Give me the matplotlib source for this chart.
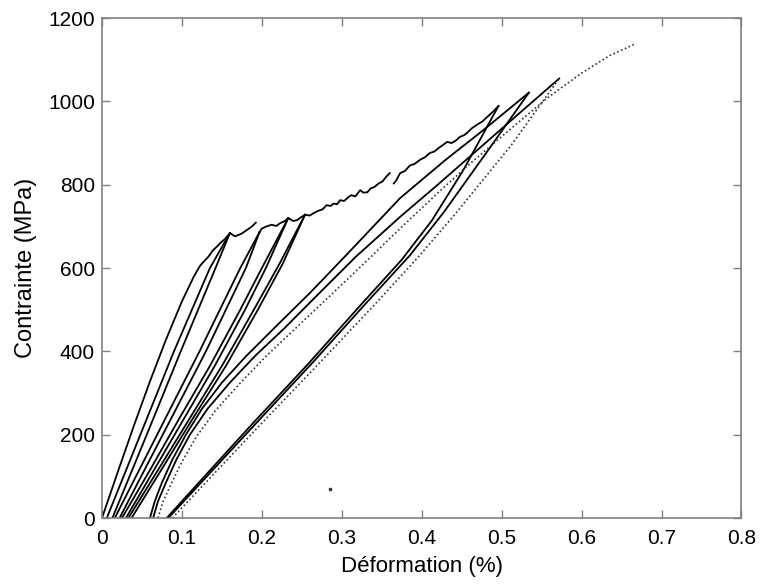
import matplotlib
matplotlib.use("Agg")
import matplotlib.pyplot as plt

plt.rcParams['font.family'] = ['Liberation Sans', 'DejaVu Sans']

# first loading (envelope up to the first plateau)
env1_x = [0, 0.02, 0.04, 0.06, 0.08, 0.1, 0.115, 0.1225, 0.127, 0.133,
          0.139, 0.144, 0.148, 0.154, 0.16, 0.1665, 0.175, 0.181, 0.187, 0.1925]
env1_y = [0, 112, 222, 328, 428, 520, 580, 605, 615, 627,
          643, 652, 660, 670, 684, 676, 683, 691, 699, 709]

# envelope after the second peak, up to the gap
env2_x = [0.197, 0.2, 0.206, 0.212, 0.218, 0.223, 0.228, 0.233, 0.239, 0.244, 0.249,
          0.254, 0.26, 0.264, 0.27, 0.276, 0.281, 0.286, 0.29, 0.294, 0.298, 0.303,
          0.308, 0.312, 0.317, 0.323, 0.327, 0.332, 0.336, 0.341, 0.346, 0.351,
          0.355, 0.36]
env2_y = [686, 695, 700, 704, 701, 708, 712, 720, 713, 715, 722,
          728, 726, 731, 737, 741, 751, 749, 755, 753, 763, 761,
          770, 775, 772, 787, 781, 782, 791, 795, 803, 808,
          818, 828]

# envelope after the gap, up to peak 5
env3_x = [0.365, 0.368, 0.373, 0.379, 0.385, 0.391, 0.398, 0.404, 0.41, 0.416, 0.421,
          0.427, 0.432, 0.437, 0.442, 0.448, 0.453, 0.457, 0.463, 0.47, 0.476, 0.482,
          0.489, 0.496]
env3_y = [803, 810, 828, 833, 846, 850, 860, 866, 876, 880, 888,
          896, 903, 900, 905, 915, 919, 925, 936, 945, 952, 963,
          975, 989]

# early unload / reload lines (peaks 1 to 4)
l1a_x = [0.006, 0.048, 0.09, 0.135, 0.16]
l1a_y = [0, 200, 400, 600, 684]
l1b_x = [0.013, 0.056, 0.0985, 0.142, 0.16]
l1b_y = [0, 200, 400, 600, 684]
l2a_x = [0.016, 0.069, 0.122, 0.173, 0.197]
l2a_y = [0, 200, 400, 600, 686]
l2b_x = [0.022, 0.076, 0.13, 0.18, 0.197]
l2b_y = [0, 200, 400, 600, 686]
l3a_x = [0.025, 0.06, 0.097, 0.135, 0.173, 0.2, 0.233]
l3a_y = [0, 115, 240, 365, 500, 600, 720]
l3b_x = [0.03, 0.065, 0.103, 0.141, 0.179, 0.205, 0.233]
l3b_y = [0, 115, 240, 365, 500, 600, 720]
l4a_x = [0.033, 0.07, 0.11, 0.15, 0.19, 0.222, 0.254]
l4a_y = [0, 115, 240, 365, 500, 610, 728]
l4b_x = [0.037, 0.074, 0.114, 0.155, 0.195, 0.226, 0.254]
l4b_y = [0, 115, 240, 365, 500, 610, 728]

# reload curves of the last cycles
c5_x = [0.06, 0.066, 0.075, 0.088, 0.105, 0.125, 0.15, 0.18, 0.215, 0.26, 0.305,
        0.373, 0.43, 0.477, 0.534]
c5_y = [0, 40, 85, 140, 200, 262, 325, 388, 455, 540, 630,
        768, 860, 931, 1021]
c6_x = [0.064, 0.07, 0.08, 0.093, 0.11, 0.132, 0.16, 0.192, 0.228, 0.272, 0.318,
        0.373, 0.42, 0.47, 0.52, 0.572]
c6_y = [0, 40, 85, 140, 200, 262, 325, 390, 455, 540, 628,
        723, 800, 884, 968, 1055]
c7_x = [0.07, 0.076, 0.086, 0.1, 0.118, 0.142, 0.172, 0.205, 0.242, 0.285, 0.33,
        0.373, 0.42, 0.46, 0.51, 0.557, 0.6, 0.635, 0.667]
c7_y = [0, 38, 80, 135, 195, 258, 322, 388, 455, 533, 615,
        695, 780, 850, 932, 1008, 1068, 1110, 1138]

# unload curves of the last cycles
s5_x = [0.081, 0.133, 0.19, 0.258, 0.323, 0.375, 0.413, 0.452, 0.496]
s5_y = [0, 110, 230, 370, 510, 620, 715, 835, 989]
s6_x = [0.083, 0.137, 0.195, 0.263, 0.33, 0.385, 0.428, 0.482, 0.534]
s6_y = [0, 112, 232, 372, 515, 630, 735, 880, 1021]
s7_x = [0.088, 0.142, 0.202, 0.272, 0.34, 0.395, 0.442, 0.512, 0.572]
s7_y = [0, 110, 232, 372, 510, 625, 730, 895, 1055]

stray_x = [0.285]
stray_y = [69]

fig = plt.figure(figsize=(7.64, 5.84), dpi=100)
ax = fig.add_axes([0.1335, 0.113, 0.837, 0.856])

solid = [(env1_x, env1_y), (env2_x, env2_y), (env3_x, env3_y),
         (l1a_x, l1a_y), (l1b_x, l1b_y), (l2a_x, l2a_y), (l2b_x, l2b_y),
         (l3a_x, l3a_y), (l3b_x, l3b_y), (l4a_x, l4a_y), (l4b_x, l4b_y),
         (c5_x, c5_y), (c6_x, c6_y), (s5_x, s5_y), (s6_x, s6_y)]
for xs, ys in solid:
    ax.plot(xs, ys, color='black', lw=1.3)

ax.plot(c7_x, c7_y, color='#333333', lw=1.2, ls=(0, (1, 1.5)))
ax.plot(s7_x, s7_y, color='#333333', lw=1.2, ls=(0, (1, 1.5)))
ax.plot(stray_x, stray_y, 's', color='#333333', ms=1.5)

ax.set_xlim(0, 0.8)
ax.set_ylim(0, 1200)
ax.set_xticks([0, 0.1, 0.2, 0.3, 0.4, 0.5, 0.6, 0.7, 0.8])
ax.set_xticklabels(['0', '0.1', '0.2', '0.3', '0.4', '0.5', '0.6', '0.7', '0.8'])
ax.set_yticks([0, 200, 400, 600, 800, 1000, 1200])
ax.tick_params(direction='in', top=True, right=True, length=6, width=1,
               color='#808080', labelsize=15)
ax.tick_params(axis='x', pad=8)
ax.tick_params(axis='y', pad=5)
for sp in ax.spines.values():
    sp.set_color('#808080')
    sp.set_linewidth(1.2)

ax.set_xlabel('Déformation (%)', fontsize=16, labelpad=6)
ax.set_ylabel('Contrainte (MPa)', fontsize=17, labelpad=8)

fig.savefig('out.png', dpi=100)
